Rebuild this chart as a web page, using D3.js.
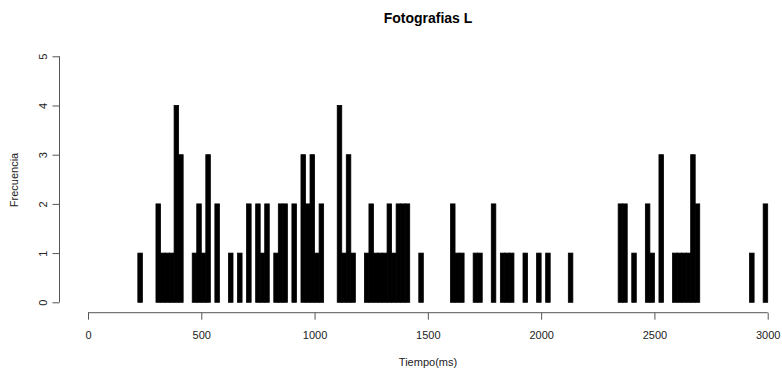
<!DOCTYPE html>
<html>
<head>
<meta charset="utf-8">
<script src="https://cdn.jsdelivr.net/npm/d3@7"></script>
<style>
  html, body { margin: 0; padding: 0; background: #fff; }
  svg { display: block; }
  text { font-family: "Liberation Sans", Arial, Helvetica, sans-serif; fill: #222; }
</style>
</head>
<body>
<svg id="chart" width="782" height="373"></svg>
<script>
// ---- data (histogram of Tiempo(ms), bin width 20 ms) ----
const title = "Fotografias L";
const xLabel = "Tiempo(ms)";
const yLabel = "Frecuencia";
const breakStart = 220;
const breakEnd = 3000;
const binWidth = 20;
// left edge of each non-empty bin
const binStart = [220, 300, 320, 340, 360, 380, 400, 460, 480, 500, 520, 560, 620, 660, 700, 740, 760, 780,
  820, 840, 860, 900, 940, 960, 980, 1000, 1020, 1100, 1120, 1140, 1160, 1220, 1240, 1260, 1280, 1300,
  1320, 1340, 1360, 1380, 1400, 1460, 1600, 1620, 1640, 1700, 1720, 1780, 1820, 1840, 1860, 1920, 1980,
  2020, 2120, 2340, 2360, 2400, 2460, 2480, 2520, 2580, 2600, 2620, 2640, 2660, 2680, 2920, 2980];
// frequency of each of those bins
const freq = [1, 2, 1, 1, 1, 4, 3, 1, 2, 1, 3, 2, 1, 1, 2, 2, 1, 2,
  1, 2, 2, 2, 3, 2, 3, 1, 2, 4, 1, 3, 1, 1, 2, 1, 1, 1,
  2, 1, 2, 2, 2, 1, 2, 1, 1, 1, 1, 2, 1, 1, 1, 1, 1,
  1, 1, 2, 2, 1, 2, 1, 3, 1, 1, 1, 1, 3, 2, 1, 2];
const xTicks = [0, 500, 1000, 1500, 2000, 2500, 3000];
const yTicks = [0, 1, 2, 3, 4, 5];

// ---- build bins (every break interval, empty ones have 0) ----
const countMap = new Map(binStart.map((s, i) => [s, freq[i]]));
const bins = d3.range(breakStart, breakEnd, binWidth).map(s => ({x0: s, x1: s + binWidth, n: countMap.get(s) || 0}));

const svg = d3.select("#chart");
const x = d3.scaleLinear().domain([0, 3000]).range([88, 767.7]);
const y = d3.scaleLinear().domain([0, 5]).range([302.3, 56.3]);

// bars
svg.append("g").selectAll("rect").data(bins).join("rect")
  .attr("x", d => x(d.x0))
  .attr("y", d => y(d.n))
  .attr("width", d => x(d.x1) - x(d.x0))
  .attr("height", d => y(0) - y(d.n))
  .attr("fill", "#000")
  .attr("stroke", "#000")
  .attr("stroke-width", 0.8);

// x axis
const xAxis = d3.axisBottom(x).tickValues(xTicks).tickFormat(d3.format("d")).tickSize(7).tickSizeOuter(0);
const gx = svg.append("g").attr("transform", "translate(0,312.7)").call(xAxis);
gx.select(".domain").attr("stroke", "#555").attr("d", `M${x(0)},0H${x(3000)}`);
gx.selectAll(".tick line").attr("stroke", "#555");
gx.selectAll(".tick text").attr("dy", null).attr("y", 26).attr("font-size", 11).style("fill", "#222")
  .attr("font-family", "Liberation Sans, Arial, sans-serif");

// y axis
const yAxis = d3.axisLeft(y).tickValues(yTicks).tickFormat(d3.format("d")).tickSize(7).tickSizeOuter(0);
const gy = svg.append("g").attr("transform", "translate(59.5,0)").call(yAxis);
gy.select(".domain").attr("stroke", "#555").attr("d", `M0,${y(0)}V${y(5)}`);
gy.selectAll(".tick line").attr("stroke", "#555");
gy.selectAll(".tick text")
  .attr("x", null).attr("dy", null)
  .attr("transform", "translate(-17,0) rotate(-90)")
  .attr("text-anchor", "middle")
  .attr("dominant-baseline", "central")
  .attr("font-size", 11).style("fill", "#222")
  .attr("font-family", "Liberation Sans, Arial, sans-serif");

// title and axis labels
svg.append("text").attr("x", 428).attr("y", 23).attr("text-anchor", "middle")
  .attr("font-size", 14).attr("font-weight", "bold").style("fill", "#000").text(title);
svg.append("text").attr("x", 428).attr("y", 366).attr("text-anchor", "middle")
  .attr("font-size", 11).text(xLabel);
svg.append("text").attr("transform", "translate(14,180) rotate(-90)").attr("text-anchor", "middle")
  .attr("dominant-baseline", "central").attr("font-size", 11).text(yLabel);
</script>
</body>
</html>
